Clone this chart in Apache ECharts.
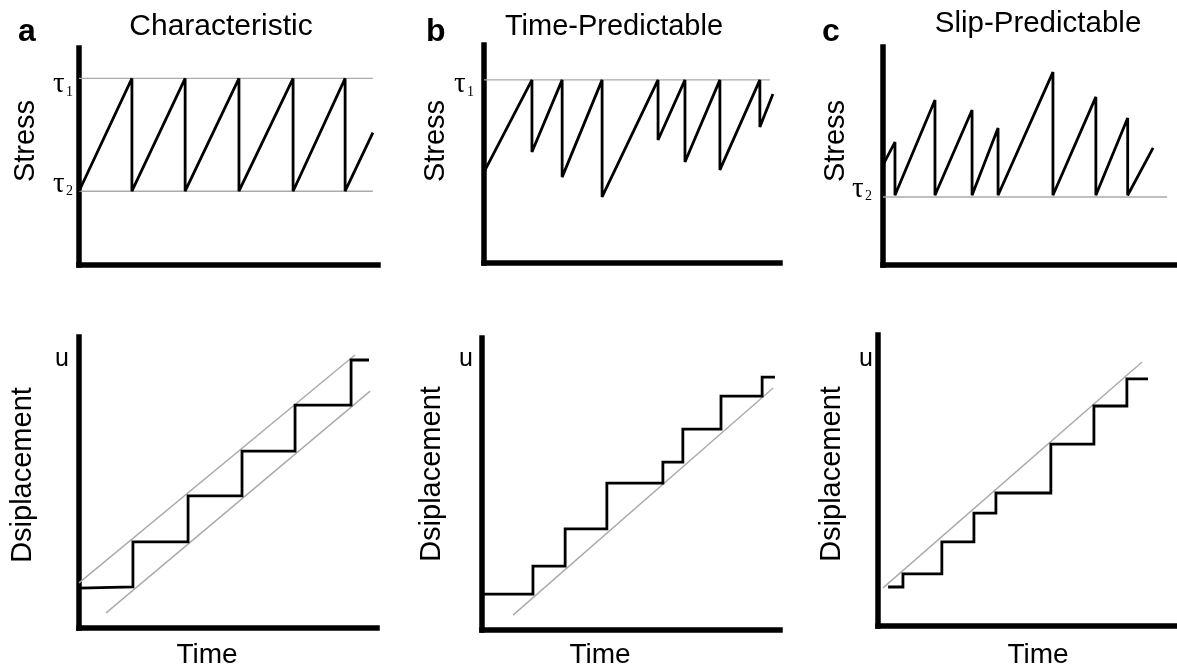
<!DOCTYPE html>
<html>
<head>
<meta charset="utf-8">
<script src="https://cdn.jsdelivr.net/npm/echarts@6/dist/echarts.min.js"></script>
<style>
  html, body { margin: 0; padding: 0; background: #fff; }
  #chart { width: 1177px; height: 671px; }
</style>
</head>
<body>
<div id="chart"></div>
<script>
// ---------- DATA (time and stress / displacement in normalized units 0-100 per panel) ----------
// (a) Characteristic
const TAU1_A = 86;
const TAU2_A = 34;
const stressA = [[0,34],[17.7,86],[17.7,34],[35.5,86],[35.5,34],[53.5,86],[53.5,34],[71.6,86],[71.6,34],[89,86],[89,34],[98.3,61]];
const tauLineEndA = 98.3;
const dispA = [[0,13.7],[18.1,14.1],[18.1,29.6],[36.6,29.6],[36.6,45.4],[54.7,45.4],[54.7,60.8],[72.5,60.8],[72.5,76.6],[91.3,76.6],[91.3,92.1],[97.3,92.1]];
const upperTrendA = [[0,15.5],[92.6,93.8]];
const lowerTrendA = [[9.1,5.2],[97.7,81.4]];

// (b) Time-Predictable
const TAU1_B = 84;
const stressB = [[0,41.7],[16.2,84],[16.2,50.9],[26.4,84],[26.4,39.4],[39.9,84],[39.9,30.3],[58.8,84],[58.8,56.4],[67.9,84],[67.9,46.3],[79.7,84],[79.7,42.7],[93.2,84],[93.2,62.4],[97.6,77.5]];
const tauLineEndB = 96.6;
const dispB = [[0,12.3],[17.1,12.3],[17.1,21.9],[27.9,21.9],[27.9,34.6],[41.9,34.6],[41.9,50.3],[60.7,50.3],[60.7,57.5],[67.4,57.5],[67.4,68.8],[80.2,68.8],[80.2,80.1],[94.0,80.1],[94.0,86.6],[98.3,86.6]];
const trendB = [[10.4,5.1],[97.7,82.9]];

// (c) Slip-Predictable
const TAU2_C = 31.2;
const stressC = [[0,45.9],[4.1,56.4],[4.1,32],[17.8,75.7],[17.8,32],[30.5,71.1],[30.5,32],[39.4,62.8],[39.4,32],[58.2,88.5],[58.2,32],[72.9,77.1],[72.9,32],[83.8,67.4],[83.8,32],[92.5,53.7]];
const tauLineEndC = 97.3;
const dispC = [[3.4,13.4],[8.4,13.4],[8.4,17.9],[21.5,17.9],[21.5,28.9],[32.3,28.9],[32.3,38.8],[39.7,38.8],[39.7,45.7],[58.2,45.7],[58.2,62.5],[72.7,62.5],[72.7,75.6],[83.8,75.6],[83.8,84.9],[90.9,84.9]];
const trendC = [[1.7,13.1],[88.9,90.7]];

const panelTitles = ['Characteristic', 'Time-Predictable', 'Slip-Predictable'];
const panelLetters = ['a', 'b', 'c'];
const stressLabel = 'Stress';
const dispLabel = 'Dsiplacement';
const timeLabel = 'Time';
const uLabel = 'u';

// ---------- LAYOUT ----------
const grids = [
  { left: 79,  top: 48,  width: 299, height: 217 },
  { left: 484, top: 45,  width: 296, height: 218 },
  { left: 883, top: 47,  width: 292, height: 218 },
  { left: 79,  top: 337, width: 298, height: 291 },
  { left: 482, top: 338, width: 298, height: 292 },
  { left: 878, top: 335, width: 297, height: 291 }
];

const SANS = "'Liberation Sans', Arial, Helvetica, sans-serif";
const SERIF = "'Liberation Serif', 'Times New Roman', 'DejaVu Serif', serif";

function axisCfg(i) {
  return {
    type: 'value', gridIndex: i, min: 0, max: 100,
    axisLine: { show: true, onZero: false, lineStyle: { color: '#000', width: 5.5, cap: 'square' } },
    axisTick: { show: false }, axisLabel: { show: false }, splitLine: { show: false }
  };
}

function blackLine(i, data) {
  return { type: 'line', xAxisIndex: i, yAxisIndex: i, data: data, showSymbol: false, symbol: 'none',
    clip: false, silent: true, z: 3,
    lineStyle: { color: '#000', width: 2.8, join: 'miter', miterLimit: 3 } };
}
function grayLine(i, data) {
  return { type: 'line', xAxisIndex: i, yAxisIndex: i, data: data, showSymbol: false, symbol: 'none',
    clip: false, silent: true, z: 2,
    lineStyle: { color: '#aaaaaa', width: 1.4 } };
}

const series = [
  grayLine(0, [[0, TAU1_A], [tauLineEndA, TAU1_A]]),
  grayLine(0, [[0, TAU2_A], [tauLineEndA, TAU2_A]]),
  blackLine(0, stressA),
  grayLine(1, [[0, TAU1_B], [tauLineEndB, TAU1_B]]),
  blackLine(1, stressB),
  grayLine(2, [[0, TAU2_C], [tauLineEndC, TAU2_C]]),
  blackLine(2, stressC),
  grayLine(3, upperTrendA),
  grayLine(3, lowerTrendA),
  blackLine(3, dispA),
  grayLine(4, trendB),
  blackLine(4, dispB),
  grayLine(5, trendC),
  blackLine(5, dispC)
];

function txt(text, x, y, size, opts) {
  opts = opts || {};
  return {
    type: 'text', x: x, y: y, rotation: opts.rot || 0, silent: true, z: 10,
    style: {
      text: text, x: 0, y: 0,
      font: (opts.weight || 'normal') + ' ' + size + 'px ' + (opts.family || SANS),
      fill: '#000',
      textAlign: opts.align || 'center', align: opts.align || 'center',
      textVerticalAlign: 'middle', verticalAlign: 'middle'
    }
  };
}

const ROT = Math.PI / 2;
const graphics = [
  // letters
  txt(panelLetters[0], 18, 32, 32, { weight: 'bold', align: 'left' }),
  txt(panelLetters[1], 426, 32, 32, { weight: 'bold', align: 'left' }),
  txt(panelLetters[2], 822, 32, 32, { weight: 'bold', align: 'left' }),
  // titles
  txt(panelTitles[0], 221, 27, 30),
  txt(panelTitles[1], 614, 27, 29),
  txt(panelTitles[2], 1038, 24, 29.5),
  // y labels
  txt(stressLabel, 26, 141, 29, { rot: ROT }),
  txt(stressLabel, 436, 141, 29, { rot: ROT }),
  txt(stressLabel, 836, 141, 29, { rot: ROT }),
  txt(dispLabel, 23, 475, 29, { rot: ROT }),
  txt(dispLabel, 432, 474, 29, { rot: ROT }),
  txt(dispLabel, 832, 474, 29, { rot: ROT }),
  // x labels
  txt(timeLabel, 207, 655, 28),
  txt(timeLabel, 600, 655, 28),
  txt(timeLabel, 1038, 655, 28),
  // u
  txt(uLabel, 62, 359, 25),
  txt(uLabel, 466, 359, 25),
  txt(uLabel, 866, 359, 25),
  // tau labels
  txt('τ', 53, 84, 29, { family: SERIF, align: 'left' }),
  txt('1', 66, 92, 14, { family: SERIF, align: 'left' }),
  txt('τ', 53, 184, 29, { family: SERIF, align: 'left' }),
  txt('2', 66, 191, 14, { family: SERIF, align: 'left' }),
  txt('τ', 454, 84, 29, { family: SERIF, align: 'left' }),
  txt('1', 467, 92, 14, { family: SERIF, align: 'left' }),
  txt('τ', 852, 189, 29, { family: SERIF, align: 'left' }),
  txt('2', 865, 196, 14, { family: SERIF, align: 'left' })
];

const chart = echarts.init(document.getElementById('chart'), null, { renderer: 'canvas' });
chart.setOption({
  animation: false,
  backgroundColor: '#fff',
  grid: grids.map(g => Object.assign({ containLabel: false }, g)),
  xAxis: grids.map((g, i) => axisCfg(i)),
  yAxis: grids.map((g, i) => axisCfg(i)),
  series: series,
  graphic: { elements: graphics }
});
</script>
</body>
</html>
